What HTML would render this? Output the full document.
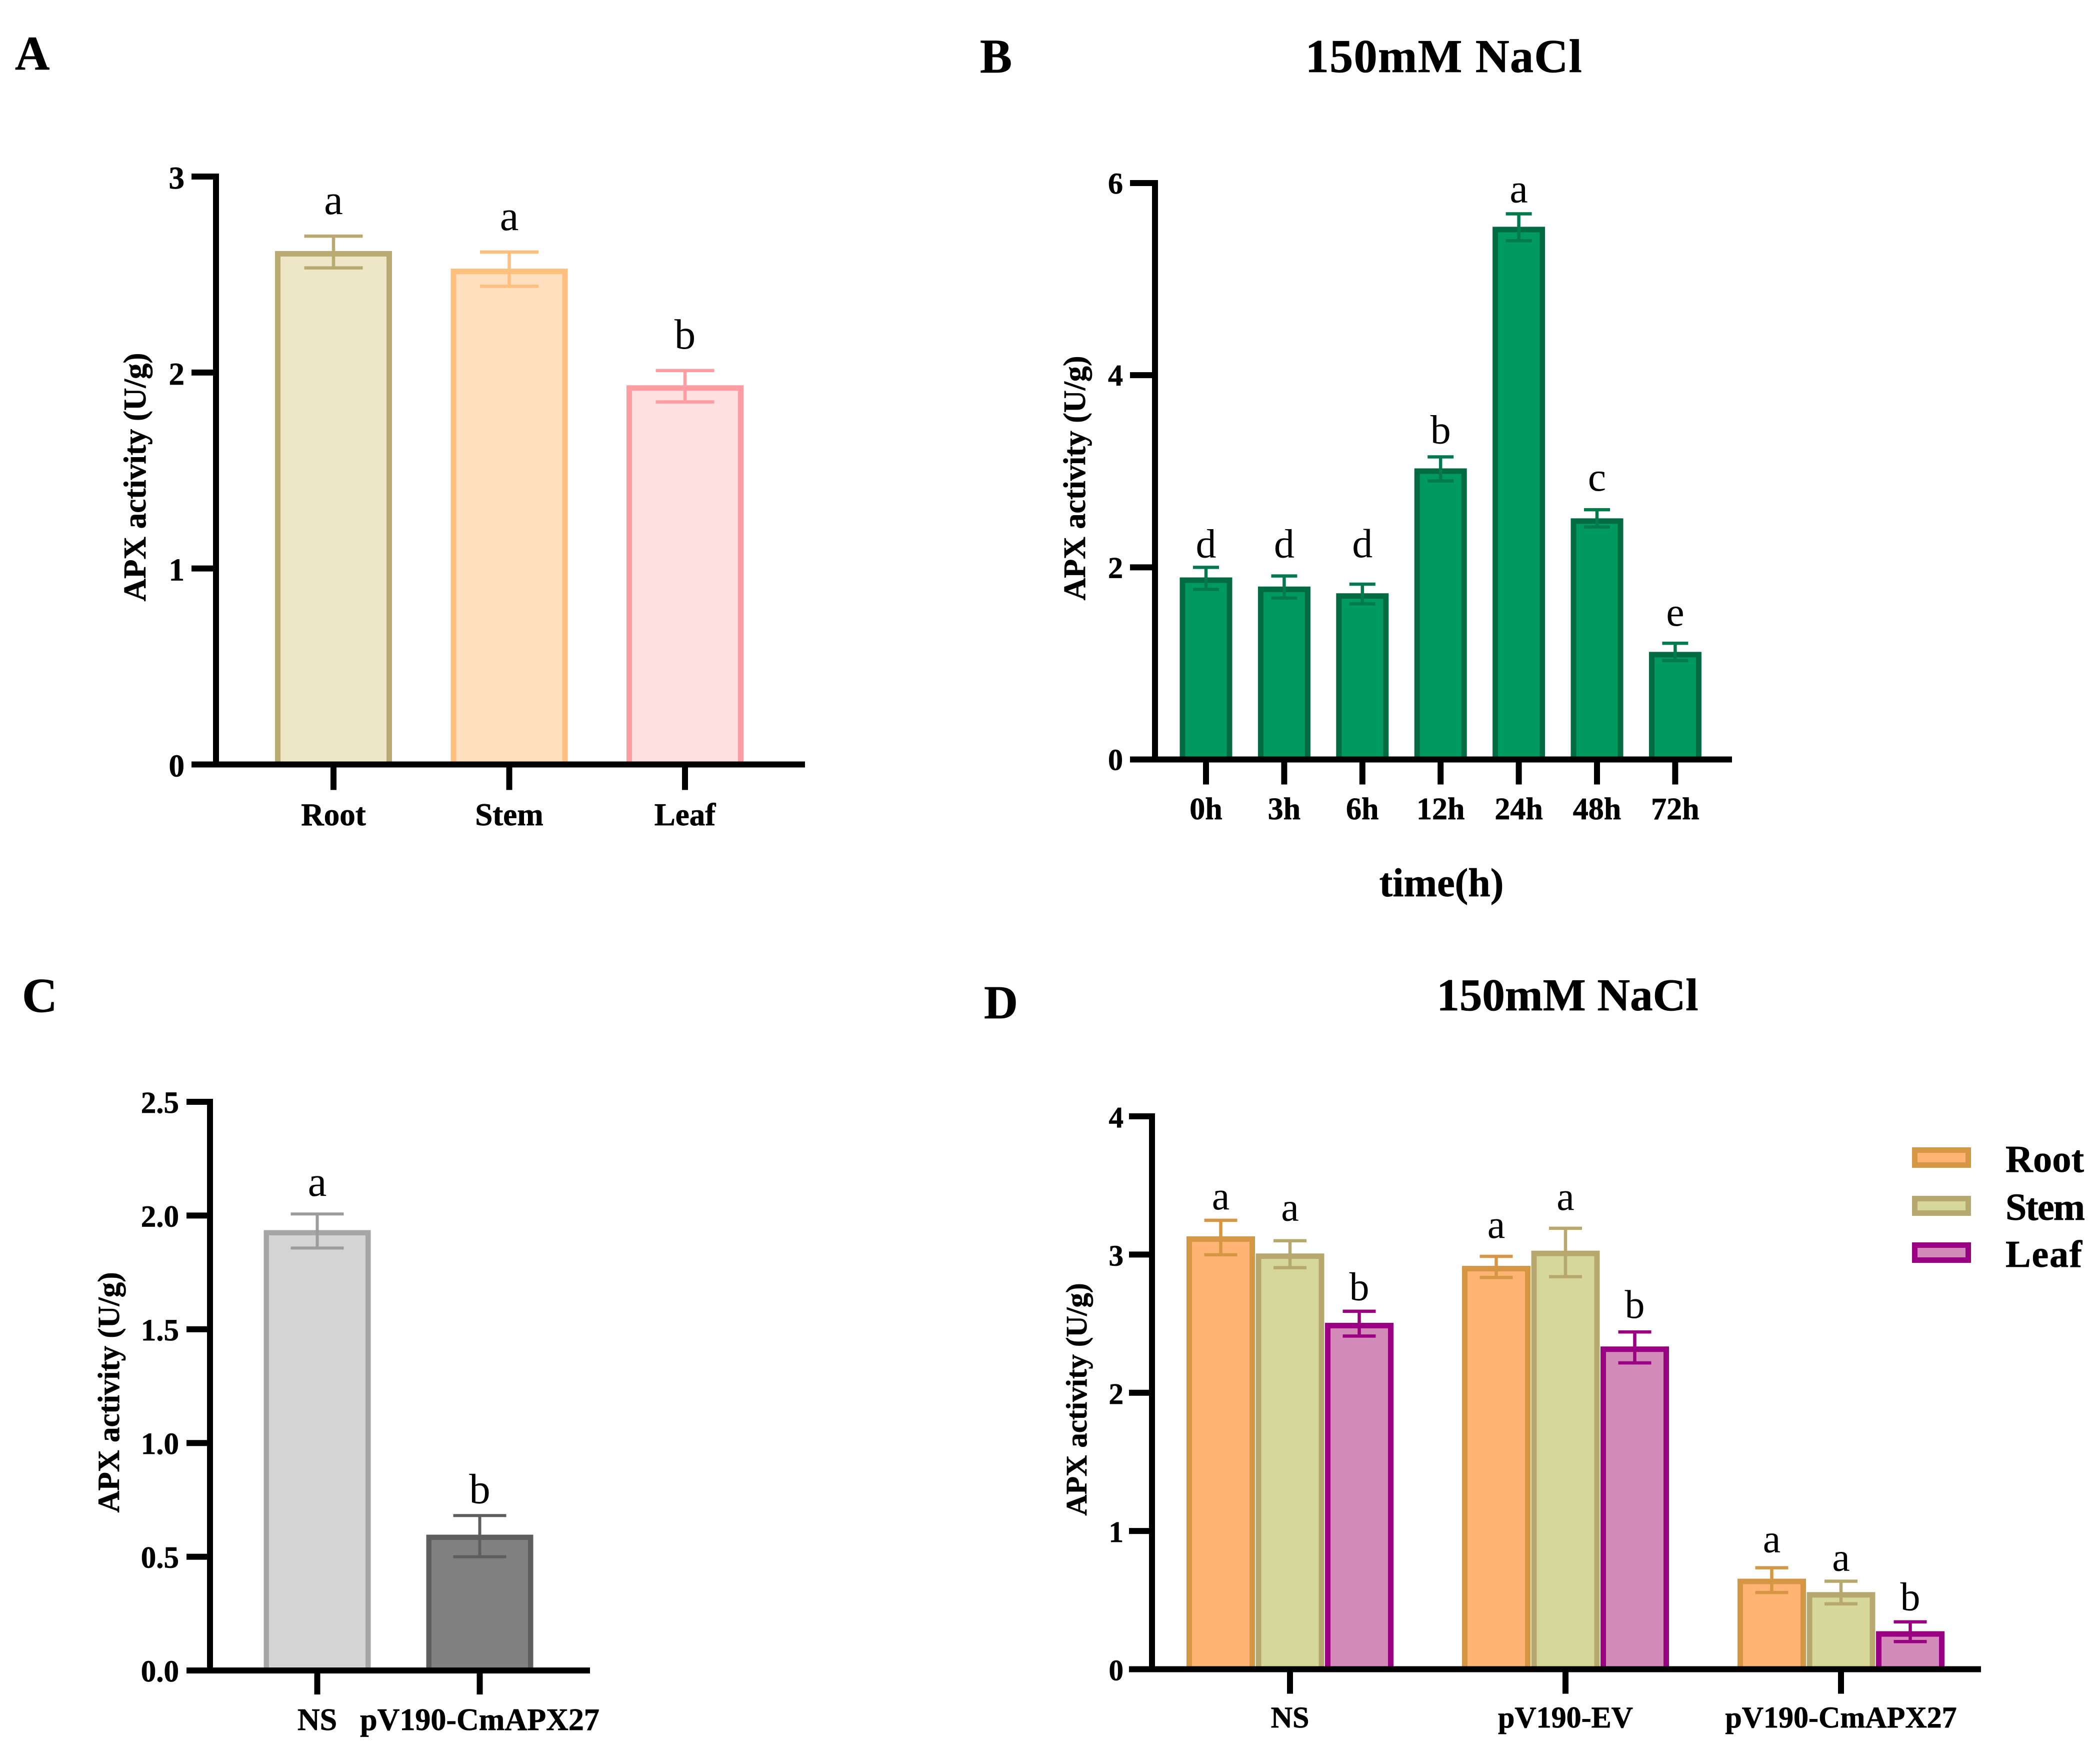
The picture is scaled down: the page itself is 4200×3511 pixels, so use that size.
<!DOCTYPE html>
<html lang="en">
<head>
<meta charset="utf-8">
<title>APX activity charts</title>
<style>
html,body{margin:0;padding:0;background:#fff;width:4200px;height:3511px;overflow:hidden}
svg{display:block}
text{font-family:"Liberation Serif",serif;fill:#000}
.b{font-weight:700;stroke:#000;stroke-width:0.7px}
</style>
</head>
<body>
<svg id="figure" xmlns="http://www.w3.org/2000/svg" width="4200" height="3511" viewBox="0 0 4200 3511">
  <rect width="4200" height="3511" fill="#fff"/>
  <text class="b" x="30" y="139" font-size="96">A</text>
  <text class="b" x="1960" y="145" font-size="96">B</text>
  <text class="b" x="44" y="2023" font-size="98">C</text>
  <text class="b" x="1968" y="2036" font-size="94">D</text>
  <text class="b" x="2888" y="144" font-size="94" letter-spacing="1.4" text-anchor="middle">150mM NaCl</text>
  <text class="b" x="3135" y="2020" font-size="91" text-anchor="middle">150mM NaCl</text>
  <text class="b" x="2883" y="1792" font-size="80" text-anchor="middle">time(h)</text>
  <text class="b" transform="translate(291 954) rotate(-90)" font-size="63" text-anchor="middle">APX activity (U/g)</text>
  <text class="b" transform="translate(2170 956) rotate(-90)" font-size="62" text-anchor="middle">APX activity (U/g)</text>
  <text class="b" transform="translate(238 2784) rotate(-90)" font-size="61" text-anchor="middle">APX activity (U/g)</text>
  <text class="b" transform="translate(2173 2798) rotate(-90)" font-size="59" text-anchor="middle">APX activity (U/g)</text>
  <g>
    <rect x="3829.5" y="2299.5" width="107" height="30" fill="#FFB474" stroke="#D69745" stroke-width="11"/>
    <text class="b" x="4011" y="2343" font-size="76" textLength="157">Root</text>
    <rect x="3829.5" y="2396.5" width="107" height="29" fill="#D6D79A" stroke="#B7A96E" stroke-width="11"/>
    <text class="b" x="4011" y="2439" font-size="76" textLength="159">Stem</text>
    <rect x="3829.5" y="2489.5" width="107" height="30" fill="#D38BBA" stroke="#9A0082" stroke-width="11"/>
    <text class="b" x="4011" y="2533" font-size="76" textLength="153">Leaf</text>
  </g>
</svg>
<script>
// ---------- Panel A ----------
const aCategories = ['Root', 'Stem', 'Leaf'];
const aValues = [2.62, 2.53, 1.935];
const aUpper = [2.696, 2.615, 2.01];
const aLower = [2.534, 2.44, 1.85];
const aLetters = ['a', 'a', 'b'];
const aTickValues = [0, 1, 2, 3];
const aTickLabels = ['0', '1', '2', '3'];

// ---------- Panel B ----------
const bCategories = ['0h', '3h', '6h', '12h', '24h', '48h', '72h'];
const bValues = [1.895, 1.80, 1.73, 3.03, 5.545, 2.51, 1.12];
const bUpper = [2.0, 1.91, 1.825, 3.15, 5.68, 2.6, 1.21];
const bLower = [1.77, 1.68, 1.62, 2.9, 5.4, 2.42, 1.03];
const bLetters = ['d', 'd', 'd', 'b', 'a', 'c', 'e'];
const bTickValues = [0, 2, 4, 6];
const bTickLabels = ['0', '2', '4', '6'];

// ---------- Panel C ----------
const cCategories = ['NS', 'pV190-CmAPX27'];
const cValues = [1.936, 0.597];
const cUpper = [2.007, 0.681];
const cLower = [1.857, 0.5];
const cLetters = ['a', 'b'];
const cTickValues = [0, 0.5, 1, 1.5, 2, 2.5];
const cTickLabels = ['0.0', '0.5', '1.0', '1.5', '2.0', '2.5'];

// ---------- Panel D ----------
const dCategories = ['NS', 'pV190-EV', 'pV190-CmAPX27'];
const dRootValues = [3.132, 2.918, 0.655];
const dRootUpper = [3.248, 2.987, 0.734];
const dRootLower = [2.998, 2.834, 0.555];
const dRootLetters = ['a', 'a', 'a'];
const dStemValues = [3.008, 3.028, 0.558];
const dStemUpper = [3.10, 3.19, 0.637];
const dStemLower = [2.905, 2.84, 0.473];
const dStemLetters = ['a', 'a', 'a'];
const dLeafValues = [2.506, 2.335, 0.275];
const dLeafUpper = [2.59, 2.44, 0.343];
const dLeafLower = [2.41, 2.216, 0.2];
const dLeafLetters = ['b', 'b', 'b'];
const dTickValues = [0, 1, 2, 3, 4];
const dTickLabels = ['0', '1', '2', '3', '4'];

const SVG_NS = 'http://www.w3.org/2000/svg';
const figure = document.getElementById('figure');

function make(parent, tag, attrs, content) {
  const el = document.createElementNS(SVG_NS, tag);
  Object.keys(attrs).forEach(function (k) { el.setAttribute(k, attrs[k]); });
  if (content !== undefined) el.textContent = content;
  parent.appendChild(el);
  return el;
}

function drawChart(c) {
  const yPos = function (v) { return c.y0 - (v / c.yMax) * (c.y0 - c.yTop); };
  const xPos = function (g, s) { return c.x0 + g * c.step + (s - (c.series.length - 1) / 2) * c.barStep; };

  const root = make(figure, 'g', {});
  
  

  c.series.forEach(function (sr, s) {
    sr.values.forEach(function (v, g) {
      const col = sr.colors[g % sr.colors.length];
      const cx = xPos(g, s);
      const top = yPos(v);
      const bar = make(root, 'rect', {
        x: cx - c.barWidth / 2 + c.barStroke / 2,
        y: top + c.barStroke / 2,
        width: c.barWidth - c.barStroke,
        height: Math.max(0, c.y0 - top - c.barStroke / 2),
        fill: col.fill,
        stroke: col.stroke,
        'stroke-width': c.barStroke
      });
      
      

      const yU = yPos(sr.upper[g]);
      const yL = yPos(sr.lower[g]);
      const err = make(root, 'path', {
        d: 'M' + (cx - c.capWidth / 2) + ' ' + yU + 'H' + (cx + c.capWidth / 2) +
           'M' + (cx - c.capWidth / 2) + ' ' + yL + 'H' + (cx + c.capWidth / 2) +
           'M' + cx + ' ' + yU + 'V' + yL,
        fill: 'none',
        stroke: col.err,
        'stroke-width': c.errStroke
      });
      
      

      const letter = make(root, 'text', {
        x: cx,
        y: yU - sr.gaps[g],
        'font-size': c.letterSize,
        'text-anchor': 'middle'
      }, sr.letters[g]);
      
      
    });
  });

  const yAxis = make(root, 'line', {
    x1: c.axisX, x2: c.axisX,
    y1: yPos(c.yMax) - c.axisStroke / 2,
    y2: c.y0 + c.axisStroke / 2,
    stroke: '#000', 'stroke-width': c.axisStroke
  });
  
  

  const xAxis = make(root, 'line', {
    x1: c.axisX - c.tickLeft, x2: c.axisEnd,
    y1: c.y0, y2: c.y0,
    stroke: '#000', 'stroke-width': c.axisStroke
  });
  
  

  c.tickValues.forEach(function (t, i) {
    const ty = yPos(t);
    const tick = make(root, 'line', {
      x1: c.axisX - c.tickLeft, x2: c.axisX,
      y1: ty, y2: ty,
      stroke: '#000', 'stroke-width': c.axisStroke
    });
    
    

    const lab = make(root, 'text', {
      class: 'b',
      x: c.yLabelRight,
      y: ty + c.yLabelDrop,
      'font-size': c.yLabelSize,
      'text-anchor': 'end'
    }, c.tickLabels[i]);
    
    
  });

  c.categories.forEach(function (name, g) {
    const tx = c.x0 + g * c.step;
    const tick = make(root, 'line', {
      x1: tx, x2: tx,
      y1: c.y0, y2: c.y0 + c.tickBelow,
      stroke: '#000', 'stroke-width': c.axisStroke
    });
    
    

    const lab = make(root, 'text', {
      class: 'b',
      x: tx,
      y: c.xLabelY,
      'font-size': c.xLabelSize,
      'text-anchor': 'middle'
    }, name);
    
    
  });
}

drawChart({
  id: 'panel-a', categories: aCategories, tickValues: aTickValues, tickLabels: aTickLabels,
  series: [{ name: '', values: aValues, upper: aUpper, lower: aLower, letters: aLetters, gaps: [44, 44, 44], colors: [
    { fill: '#EDE7C8', stroke: '#B8AA70', err: '#B8AA70' },
    { fill: '#FFDFBD', stroke: '#FFBF7F', err: '#FFBF7F' },
    { fill: '#FFDFE0', stroke: '#FF9DA3', err: '#FF9DA3' }
  ] }],
  x0: 667, step: 351.5, barStep: 0, barWidth: 234, barStroke: 11, capWidth: 117, errStroke: 6.5,
  y0: 1528.5, yTop: 353, yMax: 3, axisX: 432, axisEnd: 1610, axisStroke: 12, tickLeft: 49, tickBelow: 51,
  yLabelRight: 369, yLabelDrop: 24, yLabelSize: 63, xLabelY: 1650, xLabelSize: 63, letterSize: 85
});

drawChart({
  id: 'panel-b', categories: bCategories, tickValues: bTickValues, tickLabels: bTickLabels,
  series: [{ name: '', values: bValues, upper: bUpper, lower: bLower, letters: bLetters, gaps: [20, 37, 54, 27, 23, 38, 35], colors: [
    { fill: '#019A5E', stroke: '#036B42', err: '#037A4D' }
  ] }],
  x0: 2412, step: 156.4, barStep: 0, barWidth: 105, barStroke: 11, capWidth: 52, errStroke: 6.5,
  y0: 1518.5, yTop: 366, yMax: 6, axisX: 2310, axisEnd: 3464, axisStroke: 12, tickLeft: 50, tickBelow: 50,
  yLabelRight: 2246, yLabelDrop: 21, yLabelSize: 60, xLabelY: 1638, xLabelSize: 62, letterSize: 82
});

drawChart({
  id: 'panel-c', categories: cCategories, tickValues: cTickValues, tickLabels: cTickLabels,
  series: [{ name: '', values: cValues, upper: cUpper, lower: cLower, letters: cLetters, gaps: [36, 25], colors: [
    { fill: '#D4D4D4', stroke: '#A6A6A6', err: '#9C9C9C' },
    { fill: '#808080', stroke: '#5E5E5E', err: '#5E5E5E' }
  ] }],
  x0: 634.5, step: 325, barStep: 0, barWidth: 214, barStroke: 10.5, capWidth: 106, errStroke: 6,
  y0: 3340, yTop: 2203, yMax: 2.5, axisX: 420, axisEnd: 1180, axisStroke: 12, tickLeft: 47, tickBelow: 48,
  yLabelRight: 358, yLabelDrop: 22, yLabelSize: 61, xLabelY: 3459, xLabelSize: 62, letterSize: 85
});

drawChart({
  id: 'panel-d', categories: dCategories, tickValues: dTickValues, tickLabels: dTickLabels,
  series: [
    { name: 'root-', values: dRootValues, upper: dRootUpper, lower: dRootLower, letters: dRootLetters, gaps: [22, 37, 31], colors: [
      { fill: '#FFB474', stroke: '#D69745', err: '#D69745' } ] },
    { name: 'stem-', values: dStemValues, upper: dStemUpper, lower: dStemLower, letters: dStemLetters, gaps: [40, 37, 21], colors: [
      { fill: '#D6D79A', stroke: '#B7A96E', err: '#B7A96E' } ] },
    { name: 'leaf-', values: dLeafValues, upper: dLeafUpper, lower: dLeafLower, letters: dLeafLetters, gaps: [22, 28, 23], colors: [
      { fill: '#D38BBA', stroke: '#9A0082', err: '#9A0082' } ] }
  ],
  x0: 2580, step: 551, barStep: 138.5, barWidth: 137, barStroke: 11, capWidth: 66, errStroke: 6.5,
  y0: 3337.5, yTop: 2232, yMax: 4, axisX: 2304, axisEnd: 3962, axisStroke: 12, tickLeft: 46, tickBelow: 49,
  yLabelRight: 2247, yLabelDrop: 22, yLabelSize: 59, xLabelY: 3454, xLabelSize: 60, letterSize: 80
});
</script>
</body>
</html>
